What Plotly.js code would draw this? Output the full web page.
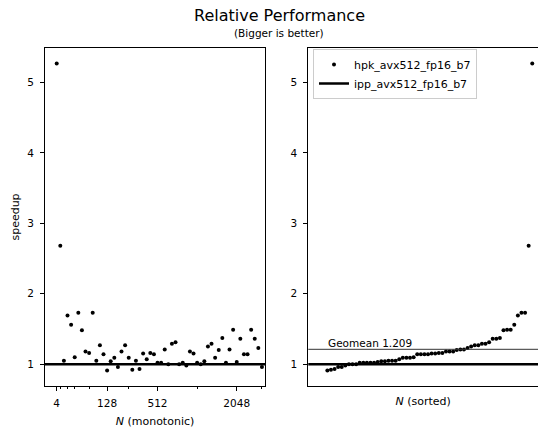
<!DOCTYPE html>
<html>
<head>
<meta charset="utf-8">
<script src="https://cdn.plot.ly/plotly-3.0.1.min.js"></script>
<style>html,body{margin:0;padding:0;background:#fff;}#chart{width:538px;height:430px;}</style>
</head>
<body>
<div id="chart"></div>
<script>
// Speedup of hpk_avx512_fp16_b7 relative to ipp_avx512_fp16_b7, in order of N (monotonic index)
const speedup = [5.27, 2.68, 1.05, 1.69, 1.56, 1.10, 1.73, 1.48, 1.18, 1.16,
                 1.73, 1.05, 1.27, 1.14, 0.91, 1.04, 1.09, 0.96, 1.18, 1.27,
                 1.09, 0.92, 1.05, 0.93, 1.15, 1.07, 1.16, 1.14, 1.02, 1.02,
                 1.21, 1.00, 1.29, 1.31, 1.00, 1.02, 0.98, 1.18, 1.15, 1.02,
                 1.00, 1.04, 1.25, 1.29, 1.09, 1.20, 1.37, 1.02, 1.21, 1.49,
                 1.03, 1.36, 1.14, 1.14, 1.49, 1.36, 1.23, 0.96];
// x-axis tick positions (index in the monotonic N list) and labels
const majorTickPos = [0, 14, 28, 50];
const majorTickText = ["4", "128", "512", "2048"];
const minorTickPos = [1, 3, 5, 9, 20, 39, 57];
const yTickVals = [1, 2, 3, 4, 5];
const baselineValue = 1;
const geomeanLabel = "Geomean 1.209";
const seriesName = "hpk_avx512_fp16_b7";
const baselineName = "ipp_avx512_fp16_b7";
const titleText = "Relative Performance";
const subtitleText = "(Bigger is better)";

const idx = speedup.map((_, i) => i);
const sorted = speedup.slice().sort((a, b) => a - b);
const geomean = Math.exp(speedup.reduce((s, v) => s + Math.log(v), 0) / speedup.length);

const font = "DejaVu Sans";
const fs = 10.5;
const fl = 11;
const mk = {color: "black", size: 4};

const traces = [
  {x: idx, y: speedup, xaxis: "x", yaxis: "y", mode: "markers", type: "scatter",
   marker: mk, showlegend: false, hoverinfo: "skip"},
  {x: idx, y: sorted, xaxis: "x2", yaxis: "y2", mode: "markers", type: "scatter",
   marker: mk, name: seriesName, showlegend: true},
  {x: [null], y: [null], xaxis: "x2", yaxis: "y2", mode: "lines", type: "scatter",
   line: {color: "black", width: 2.5}, name: baselineName, showlegend: true}
];

const hline = (xref, yref, y, w, c) => ({type: "line", xref: xref, yref: yref,
  x0: 0, x1: 1, y0: y, y1: y, line: {color: c, width: w}, layer: "above"});

const yax = {
  range: [0.69, 5.49], tickvals: yTickVals, ticks: "outside", ticklen: 4,
  tickcolor: "black", showgrid: false, zeroline: false, showline: true,
  linecolor: "black", linewidth: 1, tickfont: {size: fs, color: "black", family: font},
  ticklabelstandoff: 4
};

const layout = {
  width: 538, height: 430,
  margin: {l: 45, r: 0, t: 48, b: 44},
  paper_bgcolor: "white", plot_bgcolor: "white",
  font: {family: font, color: "black", size: fs},
  xaxis: {
    domain: [0, 220 / 493], range: [-3.25, 57.85],
    tickvals: majorTickPos, ticktext: majorTickText, ticks: "outside", ticklen: 4,
    tickcolor: "black", tickfont: {size: fs, color: "black", family: font},
    ticklabelstandoff: 3,
    minor: {tickvals: minorTickPos, ticks: "outside", ticklen: 2, tickcolor: "black", showgrid: false},
    showgrid: false, zeroline: false, showline: true, mirror: true, linecolor: "black", linewidth: 1,
    title: {text: "<i>N</i> (monotonic)", font: {size: fl, color: "black", family: font}, standoff: 9}
  },
  yaxis: Object.assign({}, yax, {mirror: true, anchor: "x",
    title: {text: "speedup", font: {size: fl, color: "black", family: font}, standoff: 5}}),
  xaxis2: {
    domain: [(308.3 - 45) / 493, 1], range: [-5.3, 58.6], anchor: "y2",
    showticklabels: false, ticks: "", showgrid: false, zeroline: false,
    showline: true, mirror: true, linecolor: "black", linewidth: 1,
    title: {text: "<i>N</i> (sorted)", font: {size: fl, color: "black", family: font}, standoff: 11}
  },
  yaxis2: Object.assign({}, yax, {anchor: "x2", mirror: false}),
  shapes: [
    hline("x domain", "y", baselineValue, 2.5, "black"),
    hline("x2 domain", "y2", baselineValue, 2.5, "black"),
    hline("x2 domain", "y2", geomean, 1, "#333333")
  ],
  annotations: [
    {text: titleText, xref: "paper", yref: "paper", x: (279 - 45) / 493, y: (386 - 16) / 338,
     xanchor: "center", yanchor: "middle", showarrow: false,
     font: {size: 16, color: "black", family: font}},
    {text: subtitleText, xref: "paper", yref: "paper", x: (279 - 45) / 493, y: (386 - 33) / 338,
     xanchor: "center", yanchor: "middle", showarrow: false,
     font: {size: 10.5, color: "black", family: font}},
    {text: geomeanLabel, xref: "x2 domain", yref: "y2", x: 0.075, y: geomean,
     xanchor: "left", yanchor: "bottom", showarrow: false, yshift: -2,
     font: {size: fs, color: "black", family: font}}
  ],
  legend: {x: (313 - 45) / 493, y: (386 - 49) / 338, xanchor: "left", yanchor: "top",
           bgcolor: "white", bordercolor: "#cccccc", borderwidth: 1,
           font: {size: fl, color: "black", family: font}, tracegroupgap: 0},
  showlegend: true
};

Plotly.newPlot("chart", traces, layout, {displayModeBar: false, staticPlot: true});
</script>
</body>
</html>
